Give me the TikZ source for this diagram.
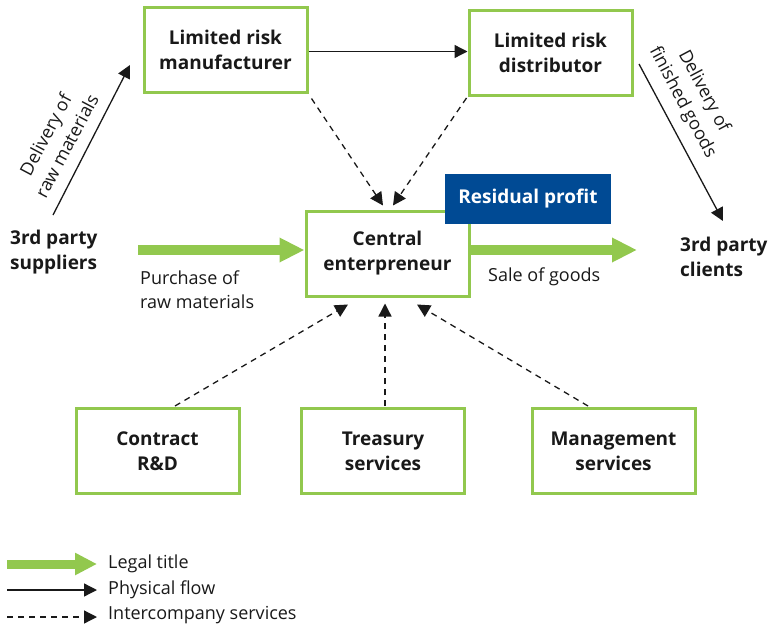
\documentclass[tikz,border=0pt]{standalone}
\usepackage{fontspec}
\setmainfont{Open Sans}
\usetikzlibrary{arrows.meta}
\definecolor{leafgreen}{RGB}{146,200,78}
\definecolor{profitblue}{RGB}{0,74,148}
\definecolor{ink}{RGB}{25,25,25}
\tikzset{
  entity/.style={draw=leafgreen, line width=3pt, fill=white, minimum width=163pt,
    minimum height=85pt, align=center, text=ink,
    font=\bfseries\fontsize{19}{25}\selectfont},
  party/.style={align=left, text=ink, font=\bfseries\fontsize{19}{25}\selectfont, inner sep=0pt},
  note/.style={align=left, text=ink, font=\fontsize{18}{24}\selectfont, inner sep=0pt},
  legal/.style={draw=leafgreen, line width=10pt, -{Triangle[length=25pt,width=23pt]}},
  physical/.style={draw=ink, line width=1.3pt, -{Triangle[length=13pt,width=13pt]}},
  service/.style={draw=ink, line width=1.3pt, dash pattern=on 6pt off 5pt,
    -{Triangle[length=13pt,width=13pt]}},
}
\begin{document}
\begin{tikzpicture}[x=1pt, y=-1pt]
\useasboundingbox (0,0) rectangle (782,629);

% entities
\node[entity] (man) at (225.5,50) {Limited risk\\manufacturer};
\node[entity] (dist) at (550.5,53) {Limited risk\\distributor};
\node[entity] (cen) at (387.5,253.5) {Central\\enterpreneur};
\node[entity] (crd) at (157.5,451) {Contract\\R\&D};
\node[entity] (tre) at (383,451) {Treasury\\services};
\node[entity] (mgt) at (613.5,451) {Management\\services};
\node[fill=profitblue, text=white, minimum width=166pt, minimum height=50pt,
  font=\bfseries\fontsize{19}{25}\selectfont] (res) at (528,199) {Residual profit};

% third parties
\node[party, anchor=west] (sup) at (10,252) {3rd party\\suppliers};
\node[party, anchor=west] (cli) at (680,257) {3rd party\\clients};

% legal title flows
\coordinate (purA) at (138,250);
\coordinate (saleB) at (637,250);
\draw[legal] (purA) -- (purA -| cen.west);
\draw[legal] (saleB -| cen.east) -- (saleB);
\node[note, anchor=west] (pur) at (140,290) {Purchase of\\raw materials};
\node[note, anchor=west] (sale) at (488,277) {Sale of goods};

% physical flows
\coordinate (rawA) at (53,215);
\coordinate (rawB) at (130,65);
\coordinate (finA) at (639,64);
\coordinate (finB) at (723,221);
\draw[physical] (rawA) -- (rawB);
\draw[physical] (finA) -- (finB);
\draw[physical] ([shift={(0,1.5)}]man.east) -- ([shift={(0,-1.5)}]dist.west);
\node[note, align=center, rotate=62] (rawlbl) at (56,140) {Delivery of\\raw materials};
\node[note, align=center, rotate=-62] (finlbl) at (693,97) {Delivery of\\finished goods};

% intercompany services
\draw[service] ([shift={(3,4.5)}]man.south east) -- ([shift={(-4.5,-4)}]cen.north);
\draw[service] ([shift={(-1,1)}]dist.south west) -- ([shift={(5.5,-4)}]cen.north);
\draw[service] ([shift={(17.5,-1)}]crd.north) -- ([shift={(-39.5,7)}]cen.south);
\draw[service] ([shift={(2,-1)}]tre.north) -- ([shift={(-2.5,6)}]cen.south);
\draw[service] ([shift={(-25.5,-1)}]mgt.north) -- ([shift={(29.5,7)}]cen.south);

% legend
\coordinate (lgA) at (7,564);
\coordinate (lgB) at (97,564);
\coordinate (lpA) at (7,590);
\coordinate (lpB) at (97,590);
\coordinate (liA) at (7,617);
\coordinate (liB) at (97,617);
\draw[legal, line width=9pt, -{Triangle[length=22pt,width=21pt]}] (lgA) -- (lgB);
\draw[physical] (lpA) -- (lpB);
\draw[service] (liA) -- (liB);
\node[note, anchor=west] (lg) at (108,564) {Legal title};
\node[note, anchor=west] (lp) at (108,590) {Physical flow};
\node[note, anchor=west] (li) at (108,615) {Intercompany services};
\end{tikzpicture}
\end{document}
